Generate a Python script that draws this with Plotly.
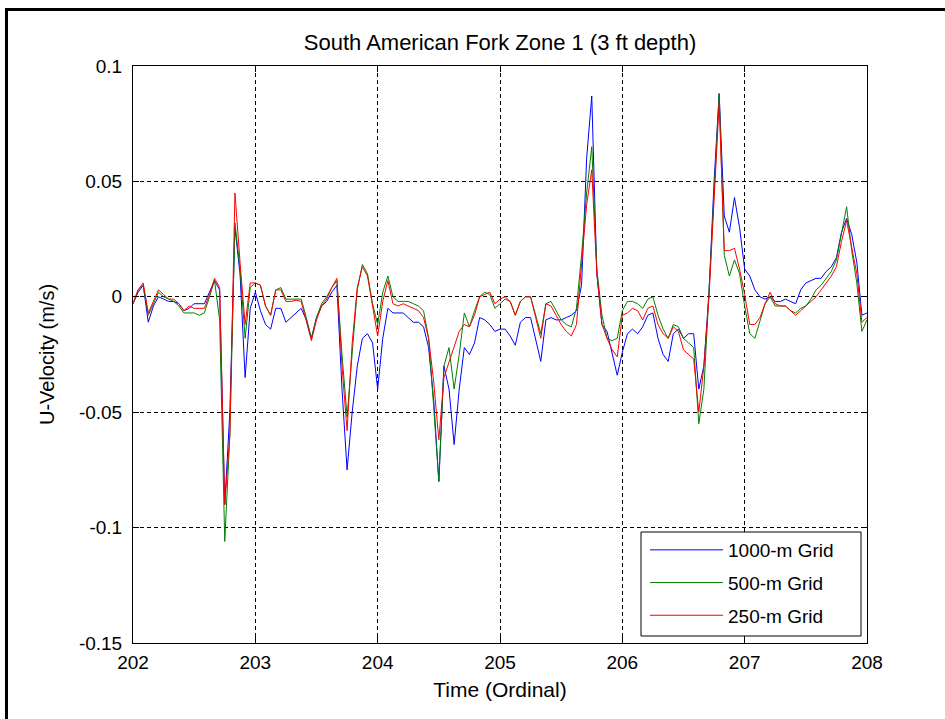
import numpy as np
import plotly.graph_objects as go

# Hourly time base, ordinal days 202-208
time = 202 + np.arange(145) / 24.0

u_1000m = [
    -0.003, 0.002, 0.005, -0.011, -0.004, 0.0, -0.001, -0.002, -0.002, -0.003,
    -0.006, -0.005, -0.003, -0.003, -0.003, 0.002, 0.007, 0.003, -0.09, -0.05,
    0.03, 0.01, -0.035, -0.005, 0.002, -0.006, -0.012, -0.014, -0.005, -0.005,
    -0.011, -0.009, -0.007, -0.005, -0.01, -0.018, -0.009, -0.004, -0.002, 0.002,
    0.005, -0.04, -0.075, -0.05, -0.03, -0.018, -0.016, -0.02, -0.04, -0.018,
    -0.005, -0.007, -0.007, -0.007, -0.009, -0.011, -0.011, -0.013, -0.022, -0.045,
    -0.08, -0.03, -0.04, -0.064, -0.04, -0.022, -0.025, -0.02, -0.009, -0.01,
    -0.012, -0.015, -0.014, -0.014, -0.017, -0.021, -0.011, -0.009, -0.009, -0.018,
    -0.028, -0.01, -0.009, -0.01, -0.01, -0.009, -0.008, -0.006, 0.005, 0.06,
    0.087, 0.01, -0.012, -0.015, -0.024, -0.034, -0.024, -0.016, -0.014, -0.016,
    -0.013, -0.008, -0.007, -0.018, -0.025, -0.028, -0.016, -0.014, -0.018, -0.016,
    -0.016, -0.04, -0.03, 0.002, 0.05, 0.088, 0.035, 0.028, 0.043, 0.03,
    0.012, 0.009, 0.003, 0.0, -0.001, 0.0, -0.002, -0.002, -0.001, -0.002,
    -0.003, 0.003, 0.006, 0.007, 0.008, 0.008, 0.011, 0.013, 0.017, 0.028,
    0.034, 0.027, 0.015, -0.008, -0.007,
]

u_500m = [
    -0.003, 0.003, 0.005, -0.008, -0.003, 0.002, 0.0, -0.001, -0.002, -0.004,
    -0.007, -0.007, -0.007, -0.008, -0.007, 0.0, 0.007, -0.01, -0.106, -0.06,
    0.032, 0.012, -0.018, 0.004, 0.006, 0.005, -0.004, -0.008, 0.003, 0.004,
    -0.001, -0.001, -0.001, -0.001, -0.009, -0.018, -0.009, -0.003, 0.0, 0.004,
    0.007, -0.025, -0.052, -0.025, 0.003, 0.014, 0.01, -0.003, -0.012, 0.002,
    0.009, 0.0, -0.002, -0.002, -0.002, -0.003, -0.004, -0.006, -0.018, -0.048,
    -0.08, -0.03, -0.022, -0.04, -0.025, -0.007, -0.013, -0.006, 0.0, 0.002,
    0.001, -0.005, -0.003, -0.001, -0.002, -0.008, -0.002, 0.0, 0.0, -0.008,
    -0.016, -0.003, -0.002, -0.006, -0.01, -0.012, -0.013, -0.005, 0.018, 0.045,
    0.065, 0.012, -0.008, -0.018, -0.019, -0.018, -0.006, -0.002, -0.002, -0.003,
    -0.005, -0.001, 0.0, -0.008, -0.014, -0.018, -0.012, -0.013, -0.018, -0.02,
    -0.022, -0.055, -0.04, 0.002, 0.045, 0.088, 0.018, 0.009, 0.016, 0.01,
    -0.004, -0.016, -0.018, -0.011, -0.003, 0.0, -0.004, -0.004, -0.004, -0.006,
    -0.007, -0.005, -0.004, -0.001, 0.003, 0.005, 0.008, 0.011, 0.016, 0.027,
    0.039, 0.02, 0.006, -0.015, -0.01,
]

u_250m = [
    -0.003, 0.003, 0.006, -0.007, -0.002, 0.003, 0.001, -0.001, -0.001, -0.003,
    -0.006, -0.004, -0.005, -0.005, -0.005, 0.001, 0.008, 0.004, -0.09, -0.06,
    0.045, 0.015, -0.012, 0.006, 0.006, 0.005, -0.004, -0.008, 0.003, 0.003,
    -0.002, -0.002, -0.0015, -0.002, -0.01, -0.019, -0.01, -0.004, -0.001, 0.004,
    0.008, -0.03, -0.058, -0.02, 0.004, 0.013, 0.009, -0.005, -0.017, -0.002,
    0.007, -0.003, -0.004, -0.003, -0.004, -0.005, -0.006, -0.009, -0.018, -0.037,
    -0.062, -0.035, -0.028, -0.022, -0.015, -0.012, -0.013, -0.008, 0.0, 0.001,
    0.002, -0.003, -0.001, 0.0, -0.002, -0.008, -0.002, 0.0, 0.0, -0.009,
    -0.018, -0.003, -0.004, -0.008, -0.012, -0.015, -0.017, -0.012, 0.015, 0.04,
    0.055, 0.01, -0.012, -0.018, -0.023, -0.026, -0.008, -0.007, -0.005, -0.006,
    -0.01, -0.005, -0.004, -0.012, -0.016, -0.018, -0.013, -0.015, -0.023, -0.025,
    -0.027, -0.05, -0.03, 0.0, 0.045, 0.084, 0.02, 0.02, 0.021, 0.012,
    0.001, -0.012, -0.012, -0.009, -0.003, 0.002, -0.003, -0.004, -0.004, -0.006,
    -0.008, -0.006, -0.004, -0.002, 0.0, 0.003, 0.006, 0.009, 0.013, 0.024,
    0.033, 0.022, 0.01, -0.011, -0.009,
]

series = [
    ("1000-m Grid", u_1000m, "rgb(0,0,255)"),
    ("500-m Grid", u_500m, "rgb(0,128,0)"),
    ("250-m Grid", u_250m, "rgb(255,0,0)"),
]

x_ticks = [202, 203, 204, 205, 206, 207, 208]
y_ticks = [-0.15, -0.1, -0.05, 0, 0.05, 0.1]
y_tick_text = ["-0.15", "-0.1", "-0.05", "0", "0.05", "0.1"]

FONT = "Liberation Sans, Arial, sans-serif"

# plot-area pixel geometry
PL, PR, PT, PB = 133, 867, 66, 643
PW, PH = PR - PL, PB - PT


def px_x(x):
    return (x - PL) / PW


def px_y(y):
    return (PB - y) / PH


fig = go.Figure()
for i, (name, vals, color) in enumerate(series):
    fig.add_trace(go.Scatter(
        x=time, y=vals, mode="lines", name=name,
        legendgroup=f"g{i}",
        line=dict(color=color, width=1),
    ))

axis_common = dict(
    showline=True, linecolor="black", linewidth=1, mirror="ticks",
    ticks="inside", ticklen=6, tickcolor="black", tickwidth=1,
    showgrid=True, gridcolor="black", gridwidth=1, griddash="4px,3px",
    zeroline=False, automargin=False,
    tickfont=dict(family=FONT, size=19, color="black"),
)

fig.update_xaxes(
    range=[202, 208], tickvals=x_ticks, ticktext=[str(v) for v in x_ticks],
    title=dict(text="Time (Ordinal)", font=dict(family=FONT, size=21, color="black"), standoff=10),
    ticklabelstandoff=2,
    **axis_common,
)
fig.update_yaxes(
    range=[-0.15, 0.1], tickvals=y_ticks, ticktext=y_tick_text,
    title=dict(text="U-Velocity (m/s)", font=dict(family=FONT, size=20, color="black"), standoff=18),
    ticklabelstandoff=6,
    **axis_common,
)

# outer figure frame
fig.add_shape(
    type="rect", xref="paper", yref="paper",
    x0=px_x(6.5), x1=3, y0=-3, y1=px_y(9.5),
    line=dict(color="black", width=3), fillcolor="rgba(0,0,0,0)", layer="below",
)

# legend box (the legend itself is drawn transparent on top of it)
fig.add_shape(
    type="rect", xref="paper", yref="paper",
    x0=px_x(641), x1=px_x(861), y0=px_y(636), y1=px_y(532),
    line=dict(color="black", width=1), fillcolor="white", layer="above",
)

fig.update_layout(
    width=945, height=719,
    margin=dict(l=PL, r=945 - PR, t=PT, b=719 - PB),
    paper_bgcolor="white", plot_bgcolor="white",
    font=dict(family=FONT, color="black"),
    title=dict(
        text="South American Fork Zone 1 (3 ft depth)",
        font=dict(family=FONT, size=22, color="black"),
        x=0.5, xref="paper", xanchor="center",
        y=1 - 42 / 719, yref="container", yanchor="middle",
    ),
    showlegend=True,
    legend=dict(
        x=px_x(645), y=px_y(635), xanchor="left", yanchor="bottom",
        bgcolor="rgba(0,0,0,0)", borderwidth=0,
        font=dict(family=FONT, size=19, color="black"),
        itemwidth=73, tracegroupgap=5,
    ),
)

fig.write_html("out.html")
